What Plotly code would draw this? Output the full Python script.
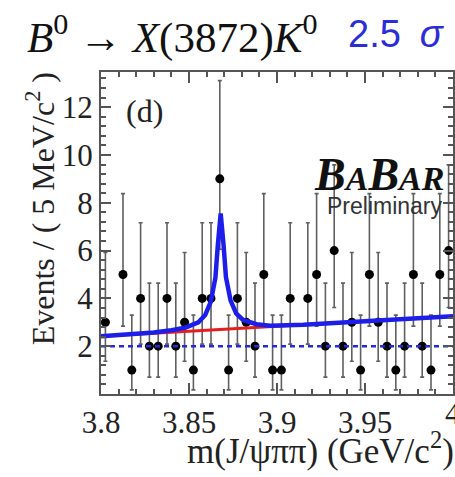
import plotly.graph_objects as go

# ---- data ----
mass_centers = [3.8025, 3.8075, 3.8125, 3.8175, 3.8225, 3.8275, 3.8325, 3.8375,
                3.8425, 3.8475, 3.8525, 3.8575, 3.8625, 3.8675, 3.8725, 3.8775,
                3.8825, 3.8875, 3.8925, 3.8975, 3.9025, 3.9075, 3.9125, 3.9175,
                3.9225, 3.9275, 3.9325, 3.9375, 3.9425, 3.9475, 3.9525, 3.9575,
                3.9625, 3.9675, 3.9725, 3.9775, 3.9825, 3.9875, 3.9925, 3.9975]
counts = [3, 0, 5, 1, 4, 2, 2, 4, 2, 3, 1, 4, 4, 9, 1, 4, 3, 2, 5, 1,
          1, 4, 0, 4, 5, 2, 6, 2, 3, 1, 5, 3, 2, 1, 2, 5, 2, 1, 5, 6]
err_low = {1: 0.827, 2: 1.292, 3: 1.633, 4: 1.914, 5: 2.159, 6: 2.380, 9: 2.943}
err_high = {1: 2.300, 2: 2.638, 3: 2.918, 4: 3.162, 5: 3.382, 6: 3.583, 9: 4.110}

# total fit curve (blue)
fit_x = [3.800, 3.815, 3.830, 3.840, 3.8477, 3.8553, 3.8592, 3.8624, 3.8650,
         3.8664, 3.868, 3.8696, 3.8710, 3.8736, 3.8768, 3.8807, 3.8883,
         3.896, 3.905, 3.915, 3.950, 4.000]
fit_y = [2.42, 2.48, 2.575, 2.67, 2.77, 3.00, 3.30, 3.87, 4.86,
         6.25, 7.55, 6.26, 4.89, 3.92, 3.37, 3.10, 2.92,
         2.86, 2.865, 2.897, 3.04, 3.25]
# background component (red)
bkg_x = [3.80, 4.00]
bkg_y = [2.42, 3.25]
# flat dashed component (blue dashed)
flat_x = [3.80, 4.00]
flat_y = [2.0, 2.0]

x_tick_vals = [3.80, 3.85, 3.90, 3.95, 4.00]
x_tick_text = ["3.8", "3.85", "3.9", "3.95", "4"]
y_tick_vals = [2, 4, 6, 8, 10, 12]
y_tick_text = ["2", "4", "6", "8", "10", "12"]

# ---- figure ----
px_x = [m for m, c in zip(mass_centers, counts) if c > 0]
px_y = [c for c in counts if c > 0]
e_lo = [err_low[c] for c in px_y]
e_hi = [err_high[c] for c in px_y]

SERIF = "Liberation Serif"
SANS = "Liberation Sans"
AX = "#555555"

fig = go.Figure()
fig.add_trace(go.Scatter(
    x=px_x, y=px_y, mode="markers",
    marker=dict(color="black", size=9),
    error_y=dict(type="data", symmetric=False, array=e_hi, arrayminus=e_lo,
                 color="#606060", thickness=1.6, width=2),
    showlegend=False))
fig.add_trace(go.Scatter(x=flat_x, y=flat_y, mode="lines",
                         line=dict(color="rgb(40,40,220)", width=2.5, dash="5px,4px"),
                         showlegend=False))
fig.add_trace(go.Scatter(x=bkg_x, y=bkg_y, mode="lines",
                         line=dict(color="rgb(230,30,30)", width=3),
                         showlegend=False))
fig.add_trace(go.Scatter(x=fit_x, y=fit_y, mode="lines",
                         line=dict(color="rgb(30,30,235)", width=4.5),
                         showlegend=False))

L, R, T, B = 101, 455, 72, 394
def fx(p):
    return (p - L) / (R - L)
def fy(p):
    return (B - p) / (B - T)

ann = []
ann.append(dict(text="<i>B</i><sup>0</sup> → <i>X</i>(3872)<i>K</i><sup>0</sup>",
                x=fx(25), y=fy(34), xanchor="left", yanchor="middle",
                font=dict(family=SERIF, size=43, color="#111111")))
ann.append(dict(text="2.5\u2002<i>σ</i>", x=fx(347), y=fy(34), xanchor="left", yanchor="middle",
                font=dict(family=SANS, size=38, color="rgb(45,45,215)")))
ann.append(dict(text="Events / ( 5 MeV/c<sup>2</sup> )", textangle=-90,
                x=fx(40), y=fy(209), xanchor="center", yanchor="middle",
                font=dict(family=SERIF, size=32, color="#222222")))
ann.append(dict(text="m(J/ψππ) (GeV/c<sup>2</sup>)",
                x=fx(458), y=fy(448), xanchor="right", yanchor="middle",
                font=dict(family=SERIF, size=35, color="#222222")))
ann.append(dict(text="4", x=fx(455), y=fy(414), xanchor="center", yanchor="middle",
                font=dict(family=SERIF, size=31, color="#222222")))
ann.append(dict(text="(d)", x=fx(145), y=fy(111), xanchor="center", yanchor="middle",
                font=dict(family=SERIF, size=32, color="#222222")))
ann.append(dict(text="<b><i>B<span style='font-size:34px'>A</span>B<span style='font-size:34px'>AR</span></i></b>",
                x=fx(448), y=fy(174), xanchor="right", yanchor="middle",
                font=dict(family=SERIF, size=46, color="#111111")))
ann.append(dict(text="Preliminary", x=fx(447), y=fy(206), xanchor="right", yanchor="middle",
                font=dict(family=SANS, size=23, color="#333333")))
for a in ann:
    a.update(xref="paper", yref="paper", showarrow=False)

fig.update_layout(
    width=455, height=477,
    margin=dict(l=L, r=455 - R, t=T, b=477 - B),
    paper_bgcolor="white", plot_bgcolor="white",
    annotations=ann,
    xaxis=dict(range=[3.8, 4.0], tickmode="array", tickvals=x_tick_vals, ticktext=x_tick_text,
               ticks="inside", ticklen=11, tickwidth=1.5, tickcolor=AX,
               minor=dict(tick0=3.8, dtick=0.01, ticks="inside", ticklen=5, tickwidth=1.5, tickcolor=AX),
               showline=True, linecolor=AX, linewidth=2, mirror="ticks",
               showgrid=False, zeroline=False,
               tickfont=dict(family=SERIF, size=31, color="#222222")),
    yaxis=dict(range=[0, 13.47], tickmode="array", tickvals=y_tick_vals, ticktext=y_tick_text,
               ticks="inside", ticklen=10, tickwidth=1.5, tickcolor=AX,
               minor=dict(tick0=0, dtick=0.4, ticks="inside", ticklen=5, tickwidth=1.5, tickcolor=AX),
               showline=True, linecolor=AX, linewidth=2, mirror="ticks",
               showgrid=False, zeroline=False,
               tickfont=dict(family=SERIF, size=31, color="#222222")),
)

fig.write_html("out.html")
